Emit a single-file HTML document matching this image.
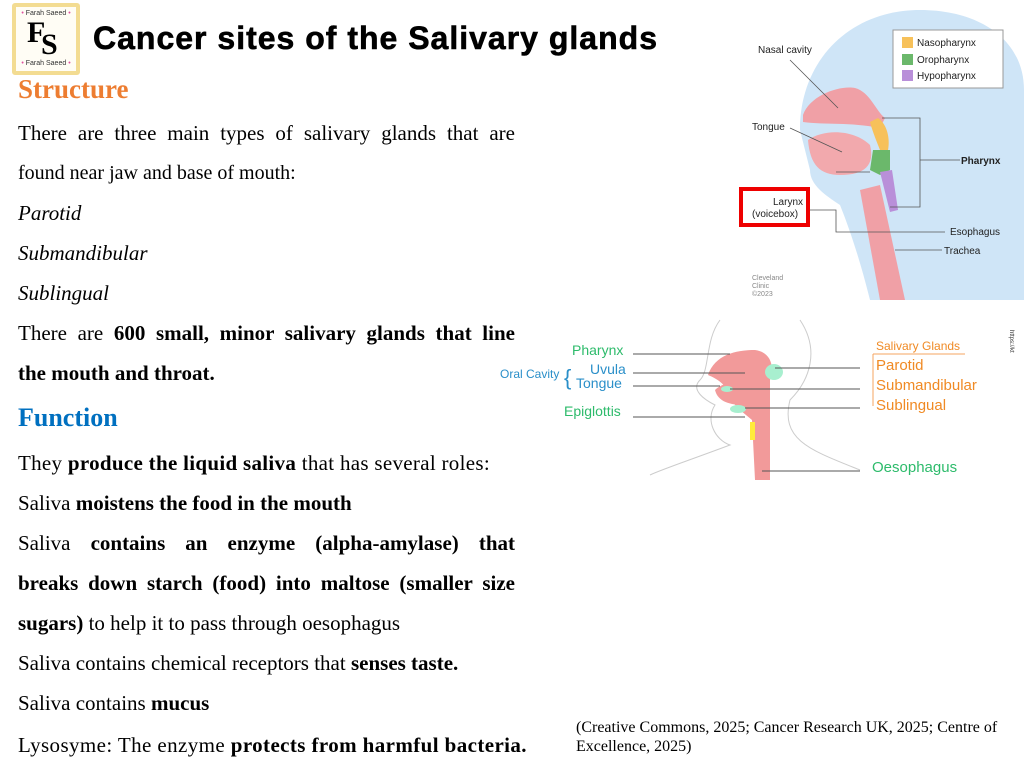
<!DOCTYPE html>
<html><head><meta charset="utf-8"><style>
*{margin:0;padding:0;box-sizing:border-box}
body{width:1024px;height:770px;background:#fff;position:relative;overflow:hidden;font-family:"Liberation Serif",serif;color:#000}
.l{position:absolute;left:18px;width:497px;font-size:21px;line-height:24px;white-space:nowrap}
.j{text-align:justify;text-align-last:justify}
.s{position:absolute;font-family:"Liberation Sans",sans-serif;white-space:nowrap}
</style></head><body>
<div style="position:absolute;left:12px;top:3px;width:68px;height:72px;border:4px solid #f3dc92;background:#fffdf5;border-radius:3px"></div>
<div class="s" style="left:18px;top:10px;font-size:7px;width:56px;text-align:center;color:#333"><span style="color:#e04fa0">•</span> Farah Saeed <span style="color:#e04fa0">•</span></div>
<div class="s" style="left:18px;top:60px;font-size:7px;width:56px;text-align:center;color:#333"><span style="color:#e04fa0">•</span> Farah Saeed <span style="color:#e04fa0">•</span></div>
<div style="position:absolute;left:27px;top:16px;font:bold 30px 'Liberation Serif',serif">F</div>
<div style="position:absolute;left:41px;top:28px;font:bold 30px 'Liberation Serif',serif">S</div>
<div class="s" style="left:93px;top:20px;font-size:32px;font-weight:bold;letter-spacing:1px;-webkit-text-stroke:0.6px #000">Cancer sites of the Salivary glands</div>
<div class="l" style="top:74px;font-size:27px;line-height:30px;font-weight:bold;color:#ed7d31">Structure</div>
<div class="l j" style="top:121px">There are three main types of salivary glands that are</div>
<div class="l" style="top:161px;font-size:20px">found near jaw and base of mouth:</div>
<div class="l" style="top:201px;font-style:italic">Parotid</div>
<div class="l" style="top:241px;font-style:italic">Submandibular</div>
<div class="l" style="top:281px;font-style:italic">Sublingual</div>
<div class="l j" style="top:321px">There are <b>600 small, minor salivary glands that line</b></div>
<div class="l" style="top:361px;font-weight:bold">the mouth and throat.</div>
<div class="l" style="top:403px;font-size:26px;line-height:30px;font-weight:bold;color:#0070c0">Function</div>
<div class="l" style="top:451px;letter-spacing:0.3px">They <b>produce the liquid saliva</b> that has several roles:</div>
<div class="l" style="top:491px">Saliva <b>moistens the food in the mouth</b></div>
<div class="l j" style="top:531px">Saliva <b>contains an enzyme (alpha-amylase) that</b></div>
<div class="l j" style="top:571px"><b>breaks down starch (food) into maltose (smaller size</b></div>
<div class="l" style="top:611px"><b>sugars)</b> to help it to pass through oesophagus</div>
<div class="l" style="top:651px">Saliva contains chemical receptors that <b>senses taste.</b></div>
<div class="l" style="top:691px">Saliva contains <b>mucus</b></div>
<div class="l" style="top:733px;width:520px;letter-spacing:0.4px">Lysosyme: The enzyme <b>protects from harmful bacteria.</b></div>
<div style="position:absolute;left:576px;top:718px;width:440px;font-size:16px;line-height:19px">(Creative Commons, 2025; Cancer Research UK, 2025; Centre of<br>Excellence, 2025)</div>

<!-- top right diagram -->
<svg style="position:absolute;left:730px;top:0" width="294" height="300">
<path d="M70 130 C70 60 120 10 190 10 C250 10 294 40 294 90 L294 300 L140 300 C130 260 120 230 110 205 C95 195 80 185 80 170 Z" fill="#cfe5f7"/>
<path d="M73 115 C80 95 110 85 125 88 C140 92 145 110 155 118 L150 128 C120 122 95 125 73 122 Z" fill="#f0a0a6"/>
<path d="M78 140 C95 128 125 130 140 145 C145 165 135 175 110 175 C90 175 80 165 78 140 Z" fill="#f2a9ad"/>
<path d="M148 118 C158 125 160 140 158 150 L150 150 C146 140 142 130 140 122 Z" fill="#f7c15a"/>
<path d="M143 150 L160 150 L160 170 L150 175 L140 170 Z" fill="#6bb86b"/>
<path d="M150 172 L162 170 L168 210 L160 212 Z" fill="#b98fd9"/>
<path d="M130 190 L150 185 L175 300 L150 300 Z" fill="#f0a0a6"/>
<rect x="163" y="30" width="110" height="58" fill="#fff" stroke="#999"/>
<rect x="172" y="37" width="11" height="11" fill="#f7c15a"/><rect x="172" y="54" width="11" height="11" fill="#6bb86b"/><rect x="172" y="70" width="11" height="11" fill="#b98fd9"/>
<g font-family="Liberation Sans,sans-serif" font-size="10" fill="#222">
<text x="187" y="46">Nasopharynx</text><text x="187" y="63">Oropharynx</text><text x="187" y="79">Hypopharynx</text>
<text x="28" y="53">Nasal cavity</text><text x="22" y="130">Tongue</text><text x="231" y="164" font-weight="bold">Pharynx</text>
<text x="43" y="205">Larynx</text><text x="22" y="217">(voicebox)</text>
<text x="220" y="235">Esophagus</text><text x="214" y="254">Trachea</text>
<text x="22" y="280" font-size="7" fill="#888">Cleveland</text><text x="22" y="288" font-size="7" fill="#888">Clinic</text><text x="22" y="296" font-size="7" fill="#888">©2023</text>
</g>
<g stroke="#555" fill="none" stroke-width="0.8">
<path d="M60 60 L108 108"/><path d="M60 128 L112 152"/><path d="M152 118 H190 V207 H160"/><path d="M190 160 H230"/>
<path d="M78 210 H106 V232 H215"/><path d="M106 172 H140"/><path d="M165 250 H212"/>
</g>
<rect x="11" y="189" width="67" height="36" fill="none" stroke="#e00" stroke-width="4"/>
</svg>

<!-- bottom right diagram -->
<svg style="position:absolute;left:490px;top:310px" width="534" height="180">
<g fill="none" stroke="#ccc" stroke-width="1">
<path d="M230 10 C215 30 220 60 210 70 C200 80 215 90 225 95 C215 110 225 130 240 135 C200 150 170 160 160 165"/>
<path d="M310 10 C330 40 320 70 300 90 C290 130 320 140 370 160"/>
</g>
<path d="M218 65 C225 45 245 40 265 40 C280 42 285 55 280 70 L280 170 L265 170 L262 110 L250 100 C245 95 240 90 240 85 C235 75 230 70 218 65 Z" fill="#f29a9a"/>
<path d="M225 80 C235 70 255 70 262 78 L255 95 C240 95 228 92 225 80Z" fill="#f29a9a"/>
<ellipse cx="284" cy="62" rx="9" ry="8" fill="#a8efcf"/>
<ellipse cx="237" cy="79" rx="6" ry="3" fill="#a8efcf"/>
<ellipse cx="248" cy="99" rx="8" ry="4" fill="#a8efcf"/>
<rect x="260" y="112" width="5" height="18" fill="#ffeb3b"/>
<g stroke="#555" stroke-width="0.9"><path d="M143 44 H240"/><path d="M143 63 H255"/><path d="M143 76 H230"/><path d="M143 107 H255"/><path d="M285 58 H370"/><path d="M240 79 H370"/><path d="M255 98 H370"/><path d="M272 161 H370"/></g>
<path d="M383 44 H475 M383 44 V96" stroke="#f4a460" fill="none"/>
<g font-family="Liberation Sans,sans-serif">
<text x="82" y="45" font-size="14" fill="#2dbb6b">Pharynx</text>
<text x="10" y="68" font-size="12" fill="#2a8fc9">Oral Cavity</text>
<text x="74" y="75" font-size="22" fill="#2a8fc9">{</text>
<text x="100" y="64" font-size="14" fill="#2a8fc9">Uvula</text>
<text x="86" y="78" font-size="14" fill="#2a8fc9">Tongue</text>
<text x="74" y="106" font-size="14" fill="#2dbb6b">Epiglottis</text>
<text x="386" y="40" font-size="12" fill="#f08a24">Salivary Glands</text>
<text x="386" y="60" font-size="15" fill="#f08a24">Parotid</text>
<text x="386" y="80" font-size="15" fill="#f08a24">Submandibular</text>
<text x="386" y="100" font-size="15" fill="#f08a24">Sublingual</text>
<text x="382" y="162" font-size="15" fill="#2dbb6b">Oesophagus</text>
<text x="0" y="0" font-size="6" fill="#333" transform="translate(520 20) rotate(90)">https://kt</text>
</g>
</svg>
</body></html>
